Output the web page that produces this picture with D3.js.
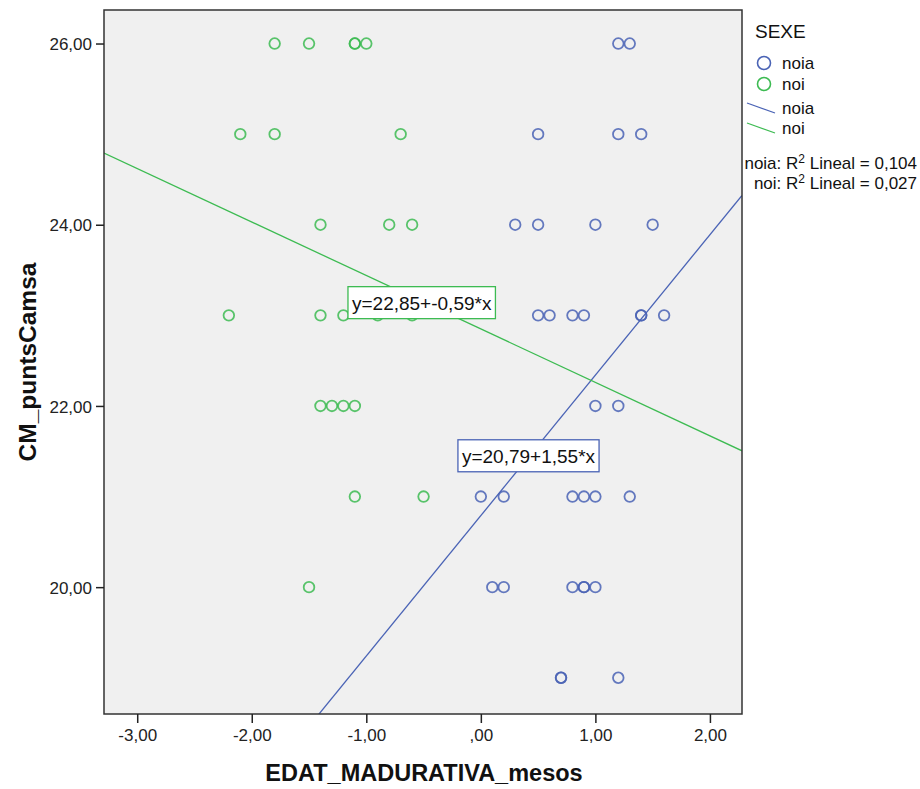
<!DOCTYPE html>
<html>
<head>
<meta charset="utf-8">
<script src="https://cdn.jsdelivr.net/npm/d3@7"></script>
<style>
  body { margin: 0; background: #fff; }
  svg { display: block; font-family: "Liberation Sans", Arial, sans-serif; }
  .axis text { font-size: 17px; fill: #222; }
  .axis line { stroke: #222; stroke-width: 1.5; }
  .axis-title { font-weight: bold; fill: #111; }
  .legend text { fill: #111; }
</style>
</head>
<body>
<svg id="chart" width="920" height="789"></svg>
<script>
// Data: EDAT_MADURATIVA_mesos (x) vs CM_puntsCamsa (y)
const noiaX = [1.2, 1.3, 0.5, 1.2, 1.4, 0.3, 0.5, 1.0, 1.5, 0.5, 0.6, 0.8, 0.9, 1.4, 1.4, 1.6,
  1.0, 1.2, 0.0, 0.2, 0.8, 0.9, 1.0, 1.3, 0.1, 0.2, 0.8, 0.9, 0.9, 1.0, 0.7, 0.7, 1.2];
const noiaY = [26, 26, 25, 25, 25, 24, 24, 24, 24, 23, 23, 23, 23, 23, 23, 23,
  22, 22, 21, 21, 21, 21, 21, 21, 20, 20, 20, 20, 20, 20, 19, 19, 19];
const noiX = [-1.8, -1.5, -1.1, -1.1, -1.0, -2.1, -1.8, -0.7, -1.4, -0.8, -0.6,
  -2.2, -1.4, -1.2, -0.9, -0.6, -1.4, -1.3, -1.2, -1.1, -1.1, -0.5, -1.5];
const noiY = [26, 26, 26, 26, 26, 25, 25, 25, 24, 24, 24,
  23, 23, 23, 23, 23, 22, 22, 22, 22, 21, 21, 20];

const groups = ['noia', 'noi'];
const colors = ['#4a63b5', '#3dbb52'];
const intercepts = [20.79, 22.85];
const slopes = [1.55, -0.59];
const rSquared = ['0,104', '0,027'];
const fitLabels = ['y=20,79+1,55*x', 'y=22,85+-0,59*x'];
// where SPSS placed the fit-line labels (data units: left edge, vertical centre)
const labelX = [-0.2, -1.16];
const labelY = [21.45, 23.14];

const xTicks = [-3, -2, -1, 0, 1, 2];
const yTicks = [20, 22, 24, 26];

const svg = d3.select('#chart');
const margin = { top: 10, right: 178, bottom: 75, left: 104 };
const width = 920 - margin.left - margin.right;
const height = 789 - margin.top - margin.bottom;

const x = d3.scaleLinear().domain([-3.29, 2.28]).range([0, width]);
const y = d3.scaleLinear().domain([18.6, 26.37]).range([height, 0]);

// SPSS style numbers: 2 decimals, comma, no leading zero, plain hyphen
const fmt = (v) => d3.format('.2f')(v)
  .replace('\u2212', '-')
  .replace('.', ',')
  .replace(/^(-?)0,/, '$1,');

const g = svg.append('g').attr('transform', `translate(${margin.left},${margin.top})`);

g.append('rect')
  .attr('width', width)
  .attr('height', height)
  .attr('fill', '#f0f0f0');

// clip so fit lines stay inside the plot frame
g.append('clipPath').attr('id', 'plot-clip')
  .append('rect').attr('width', width).attr('height', height);

const plot = g.append('g').attr('clip-path', 'url(#plot-clip)');

// fit lines
groups.forEach((grp, i) => {
  const xs = x.domain();
  plot.append('line')
    .attr('x1', x(xs[0]))
    .attr('y1', y(intercepts[i] + slopes[i] * xs[0]))
    .attr('x2', x(xs[1]))
    .attr('y2', y(intercepts[i] + slopes[i] * xs[1]))
    .attr('stroke', colors[i])
    .attr('stroke-width', 1.3);
});

// points
const series = [d3.zip(noiaX, noiaY), d3.zip(noiX, noiY)];
series.forEach((pts, i) => {
  plot.selectAll(`circle.s${i}`)
    .data(pts)
    .enter().append('circle')
    .attr('class', `s${i}`)
    .attr('cx', d => x(d[0]))
    .attr('cy', d => y(d[1]))
    .attr('r', 5.3)
    .attr('fill', 'none')
    .attr('stroke', colors[i])
    .attr('stroke-opacity', 0.85)
    .attr('stroke-width', 1.8);
});

// fit line labels in boxes
groups.forEach((grp, i) => {
  const lg = g.append('g')
    .attr('transform', `translate(${x(labelX[i])},${y(labelY[i])})`);
  const t = lg.append('text')
    .attr('x', 4)
    .attr('y', 7)
    .style('font-size', '19px')
    .attr('fill', '#111')
    .text(fitLabels[i]);
  const w = t.node().getComputedTextLength();
  lg.insert('rect', 'text')
    .attr('x', 0)
    .attr('y', -16)
    .attr('width', w + 8)
    .attr('height', 32)
    .attr('fill', '#fff')
    .attr('stroke', colors[i])
    .attr('stroke-width', 1.3);
});

// frame
g.append('rect')
  .attr('width', width)
  .attr('height', height)
  .attr('fill', 'none')
  .attr('stroke', '#333')
  .attr('stroke-width', 1.5);

// axes
const xAxis = d3.axisBottom(x).tickValues(xTicks).tickFormat(fmt).tickSize(9).tickPadding(6);
const yAxis = d3.axisLeft(y).tickValues(yTicks).tickFormat(fmt).tickSize(8).tickPadding(4);

g.append('g')
  .attr('class', 'x axis')
  .attr('transform', `translate(0,${height})`)
  .call(xAxis)
  .call(s => s.select('.domain').remove());

g.append('g')
  .attr('class', 'y axis')
  .call(yAxis)
  .call(s => s.select('.domain').remove())
  .selectAll('text').attr('dy', '0.36em');

g.append('text')
  .attr('class', 'axis-title')
  .attr('x', 424 - margin.left)
  .attr('y', height + 67)
  .attr('text-anchor', 'middle')
  .style('font-size', '23.5px')
  .text('EDAT_MADURATIVA_mesos');

g.append('text')
  .attr('class', 'axis-title')
  .attr('transform', 'rotate(-90)')
  .attr('x', -(362 - margin.top))
  .attr('y', -68)
  .attr('text-anchor', 'middle')
  .style('font-size', '24.5px')
  .text('CM_puntsCamsa');

// legend
const legend = svg.append('g').attr('class', 'legend');

legend.append('text')
  .attr('x', 755).attr('y', 38)
  .style('font-size', '19px')
  .text('SEXE');

groups.forEach((grp, i) => {
  const cy = 63 + i * 21;
  legend.append('circle')
    .attr('cx', 764).attr('cy', cy).attr('r', 6.5)
    .attr('fill', 'none')
    .attr('stroke', colors[i])
    .attr('stroke-width', 1.6);
  legend.append('text')
    .attr('x', 782).attr('y', cy + 6)
    .style('font-size', '17px')
    .text(grp);
});

groups.forEach((grp, i) => {
  const ly = 103 + i * 20;
  legend.append('line')
    .attr('x1', 747).attr('y1', ly)
    .attr('x2', 775).attr('y2', ly + 10)
    .attr('stroke', colors[i])
    .attr('stroke-width', 1.3);
  legend.append('text')
    .attr('x', 782).attr('y', ly + 11)
    .style('font-size', '17px')
    .text(grp);
});

groups.forEach((grp, i) => {
  const t = legend.append('text')
    .attr('x', 917).attr('y', 169 + i * 20)
    .attr('text-anchor', 'end')
    .style('font-size', '17px');
  t.append('tspan').text(`${grp}: R`);
  t.append('tspan').attr('dy', -6).style('font-size', '12px').text('2');
  t.append('tspan').attr('dy', 6).text(` Lineal = ${rSquared[i]}`);
});
</script>
</body>
</html>
